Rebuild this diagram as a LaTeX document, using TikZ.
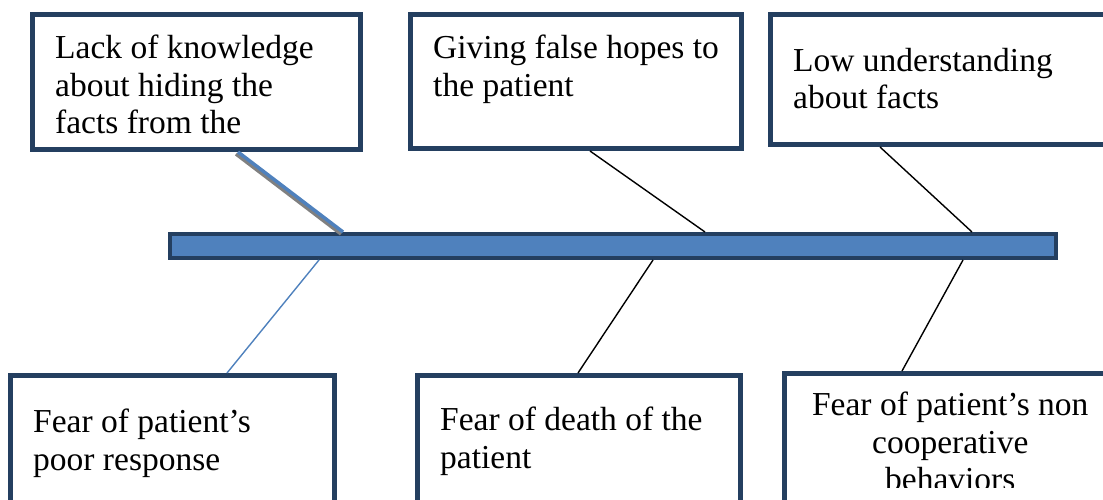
\documentclass[tikz,border=0pt]{standalone}
\usepackage{fontspec}
\setmainfont{Liberation Serif}
\usetikzlibrary{positioning}
\definecolor{boxnavy}{RGB}{36,63,96}
\definecolor{spineblue}{RGB}{79,129,189}

\begin{document}
\begin{tikzpicture}[
    x=1pt, y=-1pt,
    node distance=20pt and 20pt,
    causebox/.style={rectangle, draw=boxnavy, line width=5pt, fill=white, inner sep=0pt},
    causetext/.style={inner sep=0pt, align=left, font=\fontsize{33.5}{37.5}\selectfont},
    spoke/.style={draw=black, line width=1.4pt}
]
\useasboundingbox (0,0) rectangle (1103,499);

% Spine
\node[rectangle, draw=boxnavy, line width=4pt, fill=spineblue, inner sep=0pt, minimum width=886pt, minimum height=24pt] (spine) at (613,246) {};

% Top row
\node[causebox, minimum width=328pt, minimum height=135pt] (lackbox) at (196.5,82) {};
\node[causebox, minimum width=331pt, minimum height=134pt] (hopebox) at (576,81.5) {};
\node[causebox, minimum width=339.5pt, minimum height=130pt] (lowbox) at (940.25,79.5) {};

\node[causetext, below right=23pt and 25pt of lackbox.north west] (lack) {Lack of knowledge\\about hiding the\\facts from the};
\node[causetext, below right=23pt and 25pt of hopebox.north west] (hope) {Giving false hopes to\\the patient};
\node[causetext, below right=36pt and 25pt of lowbox.north west] (low) {Low understanding\\about facts};

% Bottom row
\node[causebox, minimum width=324pt, minimum height=144.5pt] (poorbox) at (172.5,447.75) {};
\node[causebox, minimum width=323pt, minimum height=144.5pt] (deathbox) at (579,447.75) {};
\node[causebox, minimum width=325.5pt, minimum height=146.5pt] (coopbox) at (947.25,446.75) {};

\node[causetext, below right=36pt and 25pt of poorbox.north west] (poor) {Fear of patient’s\\poor response};
\node[causetext, below right=34pt and 25pt of deathbox.north west] (death) {Fear of death of the\\patient};
\begin{scope}
\clip (782,371) rectangle (1103,487);
\node[causetext, align=center, below=21pt of coopbox.north, xshift=3pt] (coop) {Fear of patient’s non\\cooperative\\behaviors};
\end{scope}

% Spokes
\draw[gray, line width=3.5pt] ([xshift=206pt, yshift=-2pt]lackbox.south west) -- ([xshift=173pt, yshift=-2pt]spine.north west);
\draw[spineblue, line width=3.5pt] ([xshift=208pt]lackbox.south west) -- ([xshift=175pt]spine.north west);
\draw[spoke] ([xshift=182pt]hopebox.south west) -- ([xshift=537pt]spine.north west);
\draw[spoke] ([xshift=112pt]lowbox.south west) -- ([xshift=804pt]spine.north west);
\draw[spineblue, line width=1.4pt] ([xshift=151pt]spine.south west) -- ([xshift=219pt]poorbox.north west);
\draw[spoke] ([xshift=485pt]spine.south west) -- ([xshift=163pt]deathbox.north west);
\draw[spoke] ([xshift=795pt]spine.south west) -- ([xshift=120pt]coopbox.north west);

\end{tikzpicture}
\end{document}
